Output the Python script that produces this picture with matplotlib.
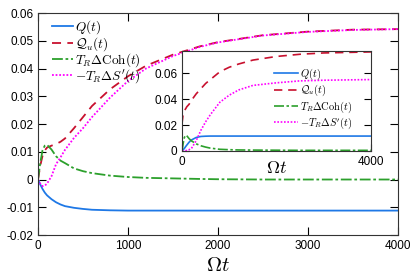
import matplotlib
matplotlib.use("Agg")
import matplotlib.pyplot as plt

plt.rcParams['font.family'] = ['Liberation Sans', 'DejaVu Sans']
plt.rcParams['mathtext.fontset'] = 'cm'

# main panel data
t = [0, 25, 50, 75, 100, 150, 200, 250, 300, 400, 500, 600, 800, 1000,
     1200, 1500, 1800, 2000, 2500, 3000, 3500, 4000]
Q = [0, -0.0018, -0.0034, -0.0047, -0.0057, -0.0071, -0.0082, -0.0090,
     -0.0096, -0.0102, -0.0106, -0.0109, -0.0111, -0.0112, -0.0112, -0.0112,
     -0.0112, -0.0112, -0.0112, -0.0112, -0.0112, -0.0112]
Qu = [0, 0.0050, 0.0085, 0.0105, 0.0115, 0.0122, 0.0128, 0.0136, 0.0148,
      0.0185, 0.0225, 0.0265, 0.0325, 0.0372, 0.0410, 0.0450, 0.0480,
      0.0495, 0.0520, 0.0533, 0.0540, 0.0542]
coh = [0, 0.0060, 0.0105, 0.0122, 0.0125, 0.0108, 0.0084, 0.0068, 0.0059,
       0.0040, 0.0030, 0.0023, 0.0014, 0.0009, 0.0006, 0.0004, 0.0002,
       0.0001, 0, 0, 0, 0]
mS = [0, -0.0015, -0.0024, -0.0022, -0.0015, 0.0012, 0.0055, 0.0080, 0.0107,
      0.0150, 0.0185, 0.0225, 0.0295, 0.0355, 0.0400, 0.0445, 0.0478,
      0.0494, 0.0519, 0.0532, 0.0539, 0.0542]

# inset data
ti = [0, 25, 50, 85, 100, 150, 200, 300, 400, 500, 600, 800, 1000, 1200,
      1500, 2000, 2500, 3000, 4000]
Qi = [0, 0.0010, 0.0020, 0.0038, 0.0045, 0.0068, 0.0085, 0.0104, 0.0112,
      0.0114, 0.0115, 0.0115, 0.0115, 0.0115, 0.0115, 0.0115, 0.0115,
      0.0115, 0.0115]
Qui = [0.021, 0.029, 0.031, 0.033, 0.034, 0.036, 0.039, 0.044, 0.048,
       0.052, 0.055, 0.061, 0.0645, 0.067, 0.070, 0.0728, 0.0745, 0.0755,
       0.0763]
cohi = [0, 0.0060, 0.0105, 0.0122, 0.0118, 0.0095, 0.0078, 0.0055, 0.0040,
        0.0030, 0.0022, 0.0013, 0.0010, 0.0008, 0.0007, 0.0006, 0.0005,
        0.0005, 0.0005]
mSi = [0, 0, 0.0001, 0.0003, 0.0005, 0.0010, 0.0020, 0.0080, 0.0160,
       0.0225, 0.0280, 0.0375, 0.0430, 0.0470, 0.0505, 0.0525, 0.0540,
       0.0545, 0.0550]

labels = [r'$Q(t)$', r'$\mathcal{Q}_u(t)$', r'$T_R\Delta\mathrm{Coh}(t)$',
          r'$-T_R\Delta S^{\prime}(t)$']
colors = ['#1e78e6', '#c8102e', '#2ca02c', '#ff00ff']
styles = ['-', (0, (5, 3.5)), (0, (6, 1.5, 1.5, 1.5)), (0, (1, 1))]

yt = [-0.02, -0.01, 0, 0.01, 0.02, 0.03, 0.04, 0.05, 0.06]
ytl = ['-0.02', '-0.01', '0', '0.01', '0.02', '0.03', '0.04', '0.05', '0.06']
xt = [0, 1000, 2000, 3000, 4000]

fig = plt.figure(figsize=(4.15, 2.77), dpi=100)
ax = fig.add_axes([0.0916, 0.1516, 0.8674, 0.8014])
for y, lab, c, ls in zip([Q, Qu, coh, mS], labels, colors, styles):
    ax.plot(t, y, color=c, ls=ls, lw=1.3, label=lab)
ax.set_xlim(0, 4000)
ax.set_ylim(-0.02, 0.06)
ax.set_xticks(xt)
ax.set_xticklabels([str(v) for v in xt])
ax.set_yticks(yt)
ax.set_yticklabels(ytl)
ax.tick_params(direction='in', top=True, right=True, length=6, labelsize=8.5,
               width=0.8)
ax.set_xlabel(r'$\Omega t$', fontsize=15, labelpad=3)
for s in ax.spines.values():
    s.set_color('#333333')
ax.legend(loc='upper left', frameon=False, fontsize=9.5, handlelength=1.6,
          labelspacing=-0.12, handletextpad=0.15, borderaxespad=0,
          borderpad=0, bbox_to_anchor=(0.039, 0.975))

ins = fig.add_axes([0.4386, 0.4549, 0.4554, 0.361])
for y, lab, c, ls in zip([Qi, Qui, cohi, mSi], labels, colors, styles):
    ins.plot(ti, y, color=c, ls=ls, lw=1.2, label=lab)
ins.set_xlim(0, 4000)
ins.set_ylim(0, 0.077)
ins.set_xticks([0, 4000])
ins.set_xticklabels(['0', '4000'])
ins.set_yticks([0, 0.02, 0.04, 0.06])
ins.set_yticklabels(['0', '0.02', '0.04', '0.06'])
ins.tick_params(direction='in', right=True, length=5, labelsize=8.5, width=0.8)
ins.set_xlabel(r'$\Omega t$', fontsize=13, labelpad=-6)
for s in ins.spines.values():
    s.set_color('#333333')
ins.legend(loc='upper left', frameon=False, fontsize=7.5, handlelength=2.3,
           labelspacing=0.08, handletextpad=0.2, borderaxespad=0,
           borderpad=0, bbox_to_anchor=(0.487, 0.84))

fig.savefig('out.png', dpi=100)
